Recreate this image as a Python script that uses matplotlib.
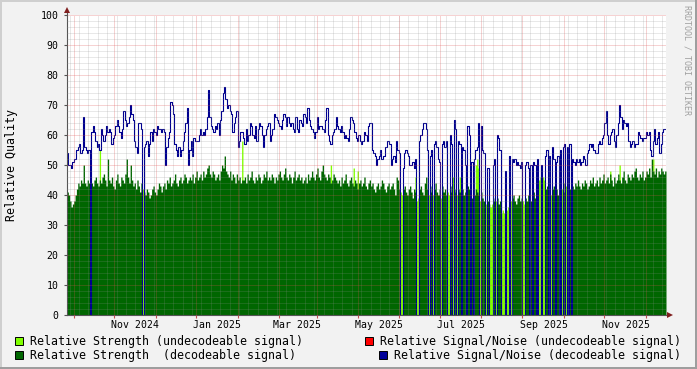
import numpy as np
import pandas as pd
import matplotlib
matplotlib.use("Agg")
import matplotlib.pyplot as plt
import matplotlib.dates as mdates
from matplotlib.patches import Rectangle
from matplotlib.ticker import MultipleLocator

# daily values, first day 2024-09-11
start = "2024-09-11"

# relative strength (top of the green area)
strength = [
    41, 40, 38, 36, 37, 38, 40, 42, 44, 43,   # 0
    45, 44, 50, 44, 43, 45, 44, 44, 44, 43,
    45, 46, 44, 43, 45, 44, 46, 47, 45, 43,
    52, 45, 44, 46, 43, 42, 45, 47, 44, 43,
    46, 45, 44, 47, 52, 46, 44, 50, 45, 43,
    44, 42, 45, 43, 41, 44, 42, 41, 40, 42,   # 50
    41, 39, 40, 42, 43, 41, 40, 42, 44, 43,
    41, 43, 44, 42, 45, 44, 46, 43, 44, 45,
    47, 44, 43, 45, 46, 44, 45, 47, 46, 44,
    45, 46, 45, 47, 44, 46, 48, 45, 46, 47,
    45, 48, 46, 47, 49, 50, 47, 46, 48, 47,   # 100
    45, 46, 47, 45, 48, 50, 49, 53, 48, 47,
    46, 48, 45, 47, 46, 44, 47, 45, 46, 44,
    45, 45, 46, 44, 47, 45, 46, 48, 45, 44,
    46, 45, 47, 46, 44, 45, 47, 46, 48, 45,
    46, 45, 47, 46, 44, 46, 45, 47, 48, 46,   # 150
    45, 47, 49, 46, 45, 47, 46, 44, 46, 48,
    45, 46, 47, 45, 46, 44, 45, 46, 44, 47,
    45, 46, 48, 46, 45, 47, 49, 46, 45, 48,
    50, 47, 46, 45, 47, 46, 44, 45, 47, 46,
    45, 44, 45, 43, 46, 44, 45, 47, 44, 43,   # 200
    45, 46, 44, 43, 45, 44, 42, 44, 45, 43,
    44, 46, 43, 42, 44, 45, 43, 44, 42, 41,
    43, 44, 42, 43, 45, 44, 42, 41, 43, 44,
    42, 43, 44, 42, 40, 46, 45, 42, 41, 40,
    42, 43, 41, 40, 42, 43, 41, 39, 42, 41,   # 250
    38, 39, 42, 43, 41, 40, 44, 46, 42, 40,
    41, 43, 40, 42, 44, 41, 40, 42, 39, 43,
    41, 42, 40, 41, 40, 43, 41, 40, 42, 41,
    40, 42, 41, 39, 42, 40, 41, 38, 43, 42,
    40, 39, 41, 40, 42, 41, 40, 38, 41, 39,   # 300
    38, 37, 37, 38, 37, 36, 37, 38, 39, 38,
    39, 37, 38, 34, 35, 34, 38, 35, 36, 37,
    38, 39, 40, 38, 37, 39, 40, 38, 39, 38,
    37, 39, 38, 40, 39, 38, 40, 41, 39, 42,
    43, 45, 46, 44, 46, 45, 42, 43, 41, 42,   # 350
    40, 42, 43, 41, 42, 40, 43, 41, 42, 44,
    41, 43, 42, 44, 42, 41, 43, 42, 44, 43,
    45, 43, 42, 44, 43, 45, 44, 42, 43, 45,
    44, 46, 43, 44, 45, 43, 46, 44, 45, 47,
    44, 45, 46, 44, 47, 45, 43, 46, 44, 45,   # 400
    47, 45, 44, 46, 48, 45, 44, 47, 46, 45,
    47, 46, 48, 49, 46, 45, 47, 46, 48, 45,
    46, 48, 47, 49, 46, 52, 48, 47, 49, 46,
    48, 47, 49, 48, 47, 48,
]

# relative signal/noise of decoded signal, 0 = nothing decoded that day
snr = [
    54, 50, 50, 49, 51, 52, 52, 55, 56, 57,   # 0
    54, 55, 66, 56, 55, 54, 55, 0, 61, 63,
    61, 58, 56, 57, 55, 62, 60, 58, 60, 63,
    61, 62, 61, 57, 59, 60, 63, 65, 63, 61,
    59, 62, 68, 65, 63, 64, 66, 70, 67, 65,
    58, 56, 54, 64, 64, 62, 0, 56, 57, 58,    # 50
    53, 57, 61, 58, 62, 61, 60, 63, 62, 62,
    61, 62, 61, 50, 56, 59, 61, 71, 70, 67,
    57, 55, 53, 56, 53, 55, 58, 61, 64, 69,
    50, 55, 58, 53, 59, 58, 58, 58, 60, 62,
    60, 61, 60, 62, 66, 75, 66, 63, 62, 61,   # 100
    63, 62, 64, 60, 65, 68, 74, 76, 72, 69,
    70, 68, 67, 61, 64, 66, 68, 56, 58, 61,
    61, 59, 57, 62, 58, 60, 64, 63, 60, 59,
    63, 58, 62, 64, 63, 60, 56, 60, 62, 63,
    64, 58, 60, 62, 67, 66, 65, 64, 63, 62,   # 150
    65, 67, 66, 63, 66, 64, 63, 64, 62, 61,
    66, 62, 61, 65, 64, 63, 67, 66, 64, 69,
    65, 63, 62, 61, 59, 61, 66, 62, 63, 63,
    62, 61, 65, 69, 60, 58, 57, 60, 61, 62,
    66, 63, 62, 61, 63, 61, 59, 60, 59, 58,   # 200
    62, 66, 65, 64, 61, 59, 58, 60, 58, 57,
    58, 61, 60, 58, 63, 64, 64, 55, 54, 53,
    50, 52, 53, 55, 52, 53, 53, 56, 58, 58,
    57, 50, 52, 53, 51, 58, 55, 54, 0, 0,
    49, 54, 55, 54, 53, 50, 50, 51, 49, 52,   # 250
    0, 0, 58, 60, 62, 64, 64, 62, 55, 0,
    53, 55, 0, 57, 58, 56, 52, 51, 0, 57,
    58, 56, 58, 0, 0, 60, 57, 0, 65, 62,
    0, 58, 57, 0, 56, 55, 50, 0, 63, 60,
    0, 51, 0, 52, 55, 56, 64, 0, 63, 55,      # 300
    54, 0, 0, 49, 0, 0, 0, 50, 52, 0,
    60, 59, 55, 0, 0, 0, 48, 0, 0, 53,
    0, 52, 51, 52, 50, 51, 50, 49, 51, 0,
    0, 50, 51, 49, 0, 50, 0, 51, 50, 0,
    52, 0, 0, 50, 0, 0, 53, 55, 0, 53,        # 350
    0, 56, 52, 0, 51, 53, 0, 55, 0, 56,
    57, 0, 56, 0, 57, 0, 52, 51, 50, 52,
    51, 52, 50, 51, 53, 52, 50, 54, 55, 57,
    56, 57, 55, 54, 54, 57, 58, 57, 59, 60,
    64, 68, 60, 57, 60, 61, 62, 58, 56, 60,   # 400
    64, 70, 66, 62, 65, 64, 63, 64, 58, 56,
    57, 58, 56, 57, 57, 61, 60, 59, 58, 59,
    59, 61, 60, 61, 55, 53, 58, 62, 57, 59,
    61, 54, 57, 61, 62, 62,
]

# days where the undecodeable strength rose above the decoded one
undec_peak_days = [24, 130, 196, 213, 216, 259, 287, 292, 304, 305, 306, 369, 404, 411, 436]
undec_peak_vals = [55, 58, 50, 49, 48, 46, 46, 46, 50, 52, 49, 44, 48, 50, 52]

legend = [
    ("Relative Strength (undecodeable signal)", "#80FF00", 15, 341, 30),
    ("Relative Strength  (decodeable signal)", "#006600", 15, 355, 30),
    ("Relative Signal/Noise (undecodeable signal)", "#FF0000", 365, 341, 380),
    ("Relative Signal/Noise (decodeable signal)", "#000099", 379, 355, 394),
]

W, H = 697, 369
MONO = ["DejaVu Sans Mono"]
plt.rcParams["font.family"] = MONO

strength = np.array(strength, dtype=float)
snr = np.array(snr, dtype=float)
decoded = snr > 0
dark = np.where(decoded, strength, 0.0)
light = np.where(decoded, 0.0, strength)
light[undec_peak_days] = np.maximum(light[undec_peak_days], undec_peak_vals)

days = pd.date_range(start, periods=len(strength) + 1, freq="D")
edges = mdates.date2num(days)


def ext(v):
    return np.append(v, v[-1])


fig = plt.figure(figsize=(W / 100, H / 100), dpi=100, facecolor="#F2F2F2")
ax = fig.add_axes([67 / W, (H - 315) / H, 599 / W, 300 / H])
ax.set_facecolor("white")

ax.fill_between(edges, ext(light), step="post", color="#80FF00", lw=0, zorder=1)
ax.fill_between(edges, ext(dark), step="post", color="#006600", lw=0, zorder=1.1)
ax.step(edges, ext(snr), where="post", color="#000090", lw=0.8, zorder=2)

ax.set_xlim(edges[0], edges[-1])
ax.set_ylim(0, 100)

grey = dict(color="#8F8F8F", alpha=0.4, ls=(0, (1, 1)), lw=0.72)
red = dict(color="#DE4F4F", alpha=0.5, ls=(0, (1, 1)), lw=0.72)

ax.set_axisbelow(False)
ax.yaxis.set_major_locator(MultipleLocator(10))
ax.yaxis.set_minor_locator(MultipleLocator(2))
ax.grid(which="major", axis="y", **red)
ax.grid(which="minor", axis="y", **grey)

ax.xaxis.set_major_locator(mdates.MonthLocator(bymonth=(1, 3, 5, 7, 9, 11)))
ax.xaxis.set_major_formatter(mdates.DateFormatter("%b %Y"))
ax.xaxis.set_minor_locator(mdates.MonthLocator(bymonthday=16))
ax.grid(which="minor", axis="x", **red)
for d in pd.date_range(days[0], days[-1], freq="W-FRI"):
    ax.axvline(mdates.date2num(d), zorder=2.4, **grey)

ax.tick_params(axis="x", which="major", length=0, pad=3.5, labelsize=7.1)
ax.tick_params(axis="x", which="minor", length=2, width=0.8, color="#C05050")
ax.tick_params(axis="y", which="major", length=2, width=0.8, color="#555555",
               labelsize=7.1, pad=4)
ax.tick_params(axis="y", which="minor", length=0)

for s in ("top", "right"):
    ax.spines[s].set_visible(False)
for s in ("left", "bottom"):
    ax.spines[s].set_color("#555555")
    ax.spines[s].set_linewidth(0.8)

# rrdtool style arrows at the axis ends
ax.plot([0, 0], [1, 1 + 4 / 300], color="#555555", lw=0.8, transform=ax.transAxes, clip_on=False)
ax.plot([0], [1 + 5 / 300], marker="^", ms=4.5, color="#801F1F", mew=0,
        transform=ax.transAxes, clip_on=False)
ax.plot([1, 1 + 3 / 599], [0, 0], color="#555555", lw=0.8, transform=ax.transAxes, clip_on=False)
ax.plot([1 + 4 / 599], [0], marker=">", ms=4.5, color="#801F1F", mew=0,
        transform=ax.transAxes, clip_on=False)

fig.text(12 / W, 1 - 165 / H, "Relative Quality", rotation=90, ha="center", va="center",
         fontsize=8.4)
fig.text(687 / W, 1 - 60 / H, "RRDTOOL / TOBI OETIKER", rotation=270, ha="center",
         va="center", fontsize=6, color="#A0A0A0")

for label, col, sx, cy, tx in legend:
    fig.patches.append(Rectangle((sx / W, 1 - (cy + 4) / H), 8 / W, 8 / H,
                                 transform=fig.transFigure, facecolor=col,
                                 edgecolor="black", lw=0.7))
    fig.text(tx / W, 1 - cy / H, label, ha="left", va="center", fontsize=8.4)

# 3d frame of the canvas
fig.patches.append(Rectangle((0, 1 - 2 / H), 1, 2 / H, transform=fig.transFigure,
                             facecolor="#CFCFCF", lw=0))
fig.patches.append(Rectangle((0, 0), 2 / W, 1, transform=fig.transFigure,
                             facecolor="#CFCFCF", lw=0))
fig.patches.append(Rectangle((0, 0), 1, 2 / H, transform=fig.transFigure,
                             facecolor="#9E9E9E", lw=0))
fig.patches.append(Rectangle((1 - 2 / W, 0), 2 / W, 1, transform=fig.transFigure,
                             facecolor="#9E9E9E", lw=0))

fig.savefig("out.png", dpi=100, facecolor=fig.get_facecolor())
